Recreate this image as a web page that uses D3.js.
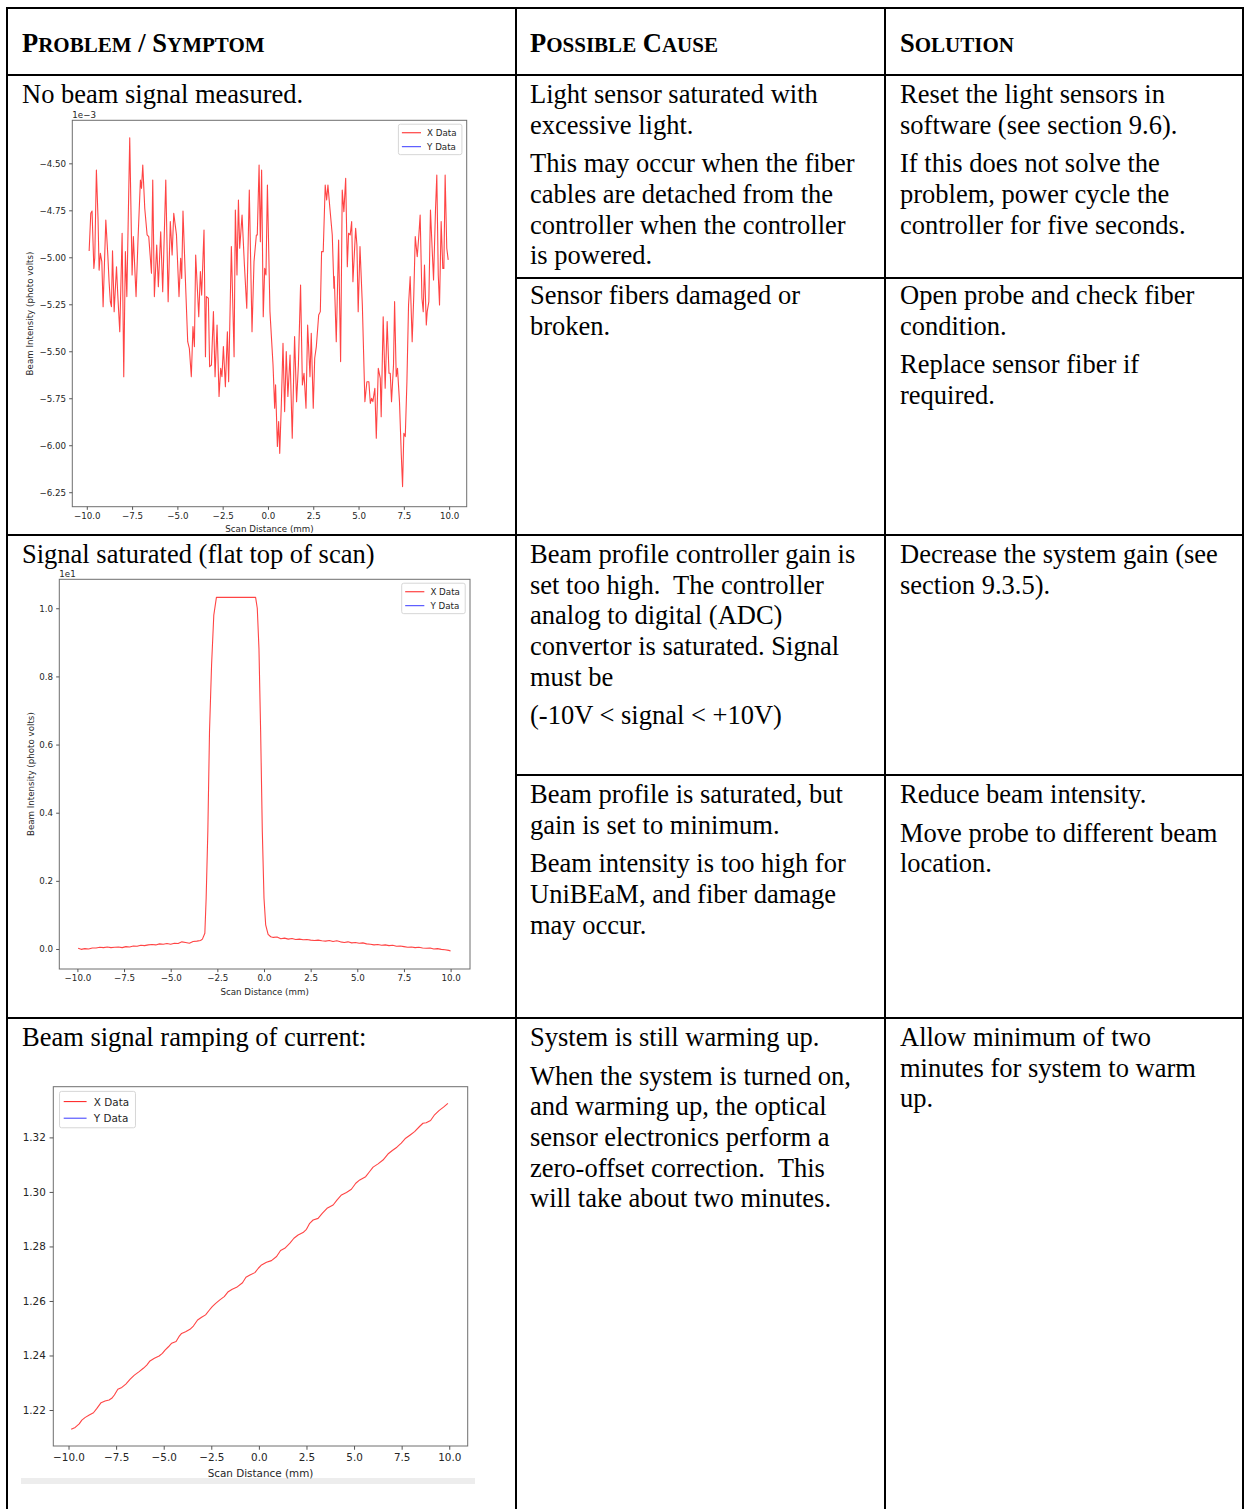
<!DOCTYPE html>
<html>
<head>
<meta charset="utf-8">
<script src="https://cdn.jsdelivr.net/npm/d3@7"></script>
<style>
  html, body { margin: 0; padding: 0; background: #fff; }
  svg { display: block; }
  .cell text { font-family: "Liberation Serif", "Times New Roman", serif; font-size: 26.5px; fill: #000; white-space: pre; }
  .head text { font-family: "Liberation Serif", "Times New Roman", serif; font-weight: bold; fill: #000; white-space: pre; }
  .plot text { font-family: "DejaVu Sans", sans-serif; fill: #262626; }
</style>
</head>
<body>
<svg id="page" width="1244" height="1509"></svg>
<script>
// ---------- table content ----------
const headers = ["Problem / Symptom", "Possible Cause", "Solution"];

const cellText = [
  ["No beam signal measured."],
  ["Light sensor saturated with", "excessive light.", "", "This may occur when the fiber", "cables are detached from the", "controller when the controller", "is powered."],
  ["Reset the light sensors in", "software (see section 9.6).", "", "If this does not solve the", "problem, power cycle the", "controller for five seconds."],
  ["Sensor fibers damaged or", "broken."],
  ["Open probe and check fiber", "condition.", "", "Replace sensor fiber if", "required."],
  ["Signal saturated (flat top of scan)"],
  ["Beam profile controller gain is", "set too high.  The controller", "analog to digital (ADC)", "convertor is saturated. Signal", "must be", "", "(-10V < signal < +10V)"],
  ["Decrease the system gain (see", "section 9.3.5)."],
  ["Beam profile is saturated, but", "gain is set to minimum.", "", "Beam intensity is too high for", "UniBEaM, and fiber damage", "may occur."],
  ["Reduce beam intensity.", "", "Move probe to different beam", "location."],
  ["Beam signal ramping of current:"],
  ["System is still warming up.", "", "When the system is turned on,", "and warming up, the optical", "sensor electronics perform a", "zero-offset correction.  This", "will take about two minutes."],
  ["Allow minimum of two", "minutes for system to warm", "up."]
];

// ---------- scan 1: noisy signal (values in 1e-3 photo volts) ----------
const noiseX = [-9.87,-9.78,-9.71,-9.61,-9.56,-9.47,-9.38,-9.32,-9.25,-9.17,-9.10,-8.95,-8.84,-8.77,-8.70,-8.64,-8.58,-8.49,-8.36,-8.29,-8.18,-8.05,-7.96,-7.87,-7.79,-7.63,-7.50,-7.43,-7.28,-7.17,-7.04,-6.98,-6.91,-6.80,-6.67,-6.58,-6.43,-6.36,-6.27,-6.14,-6.05,-5.92,-5.81,-5.64,-5.51,-5.39,-5.29,-5.20,-5.05,-4.91,-4.82,-4.76,-4.69,-4.54,-4.43,-4.34,-4.23,-4.14,-4.06,-3.99,-3.82,-3.73,-3.66,-3.53,-3.45,-3.40,-3.29,-3.22,
  -3.12,-3.01,-2.92,-2.81,-2.70,-2.61,-2.54,-2.46,-2.35,-2.24,-2.17,-2.02,-1.87,-1.80,-1.71,-1.63,-1.56,-1.43,-1.30,-1.17,-1.03,-0.88,-0.77,-0.64,-0.59,-0.49,-0.42,-0.35,-0.26,-0.18,-0.11,-0.03,0.11,0.28,0.37,0.42,0.52,0.59,0.65,0.74,0.83,0.92,1.01,1.10,1.22,1.34,1.47,1.58,1.68,1.80,1.90,1.99,2.10,2.19,2.32,2.39,2.50,2.58,2.67,2.80,2.89,2.96,3.05,3.16,3.24,3.31,3.42,3.55,3.64,
  3.66,3.77,3.90,4.01,4.10,4.19,4.29,4.38,4.45,4.54,4.62,4.69,4.84,4.91,4.98,5.08,5.21,5.35,5.46,5.57,5.65,5.72,5.79,5.90,5.98,6.09,6.20,6.25,6.36,6.47,6.58,6.68,6.75,6.82,6.93,6.99,7.08,7.15,7.26,7.36,7.43,7.50,7.58,7.67,7.76,7.85,7.96,8.05,8.13,8.24,8.33,8.40,8.50,8.57,8.64,8.74,8.79,8.88,8.97,9.07,9.14,9.25,9.32,9.40,9.47,9.56,9.65,9.71,9.78,9.87,9.95];
const noiseY = [-4.966,-4.766,-4.754,-5.059,-5.005,-4.536,-4.793,-5.068,-4.979,-5.023,-5.263,-4.802,-4.988,-5.130,-5.236,-5.263,-4.966,-5.289,-5.050,-5.201,-5.396,-4.872,-5.635,-4.970,-5.209,-4.364,-5.094,-4.890,-5.209,-4.899,-4.589,-4.633,-4.509,-4.740,-4.881,-4.890,-5.085,-4.589,-5.209,-4.935,-5.156,-4.864,-5.183,-4.589,-5.236,-4.810,-4.988,-4.766,-4.881,-5.209,-5.005,-5.112,-4.754,-5.165,-5.449,-5.484,-5.635,-5.369,-5.475,-4.988,-5.316,-5.076,-5.201,-4.855,-5.529,-5.209,-5.218,-5.582,
  -5.573,-5.289,-5.635,-5.360,-5.741,-5.591,-5.635,-5.475,-5.688,-5.396,-5.662,-4.943,-5.529,-4.748,-5.094,-4.695,-4.952,-4.775,-5.041,-5.271,-4.642,-5.396,-5.023,-4.881,-4.881,-4.509,-4.917,-4.536,-5.316,-5.059,-5.094,-4.615,-5.289,-5.573,-5.803,-5.679,-6.007,-5.874,-6.043,-5.777,-5.458,-5.821,-5.502,-5.741,-5.520,-5.963,-5.422,-5.768,-5.573,-5.147,-5.679,-5.617,-5.803,-5.360,-5.635,-5.404,-5.803,-5.537,-5.475,-5.307,-5.289,-4.970,-4.970,-4.615,-4.695,-4.615,-4.740,-4.881,-5.165,
  -5.103,-5.449,-4.908,-5.555,-4.642,-4.757,-4.580,-5.050,-4.872,-4.881,-4.810,-5.130,-4.846,-4.935,-5.289,-4.943,-5.254,-5.768,-5.662,-5.662,-5.777,-5.750,-5.768,-5.697,-5.963,-5.591,-5.644,-5.848,-5.316,-5.697,-5.342,-5.617,-5.617,-5.768,-5.573,-5.236,-5.635,-5.591,-5.768,-6.052,-6.220,-5.936,-5.954,-5.662,-5.254,-5.103,-5.449,-5.201,-4.890,-4.997,-4.881,-4.775,-5.218,-5.289,-5.041,-5.360,-5.289,-5.236,-4.748,-4.970,-5.121,-4.740,-4.562,-5.094,-5.254,-4.810,-5.059,-5.059,-4.562,-4.952,-5.014];

// ---------- scan 2: saturated profile (values in 1e1 photo volts) ----------
const satX = [-9.96,-9.8,-9.6,-9.4,-9.2,-9.0,-8.8,-8.6,-8.4,-8.2,-8.0,-7.8,-7.6,-7.4,-7.2,-7.0,-6.8,-6.6,-6.4,-6.2,-6.0,-5.8,-5.6,-5.4,-5.2,-5.0,-4.8,-4.6,-4.4,-4.2,-4.0,-3.8,-3.6,-3.4,-3.3,
  -3.17,-3.10,-3.01,-2.92,-2.81,-2.69,-2.55,-0.45,-0.36,-0.27,-0.18,-0.09,0.0,0.09,0.22,0.36,
  0.5,0.7,0.9,1.1,1.3,1.5,1.7,1.9,2.1,2.3,2.5,2.7,2.9,3.1,3.3,3.5,3.7,3.9,4.1,4.3,4.5,4.7,4.9,5.1,5.3,5.5,5.7,5.9,6.1,6.3,6.5,6.7,6.9,7.1,7.3,7.5,7.7,7.9,8.1,8.3,8.5,8.7,8.9,9.1,9.3,9.5,9.7,9.9,10.0];
const satY = [0.002,-0.001,0.001,0.000,0.003,0.003,0.005,0.004,0.006,0.004,0.005,0.006,0.004,0.007,0.006,0.009,0.008,0.011,0.010,0.012,0.013,0.012,0.015,0.014,0.016,0.014,0.017,0.016,0.021,0.019,0.017,0.022,0.023,0.025,0.029,
  0.046,0.149,0.345,0.638,0.833,0.980,1.032,1.032,1.000,0.882,0.638,0.345,0.149,0.071,0.043,0.036,
  0.034,0.035,0.030,0.032,0.029,0.031,0.028,0.029,0.027,0.028,0.026,0.025,0.026,0.024,0.023,0.025,0.022,0.024,0.021,0.019,0.021,0.018,0.019,0.017,0.018,0.015,0.014,0.012,0.013,0.011,0.012,0.010,0.011,0.008,0.009,0.007,0.005,0.006,0.004,0.005,0.003,0.002,0.003,0.000,0.001,-0.001,-0.002,-0.004,-0.006];

// ---------- scan 3: warm-up ramp (photo volts) ----------
const rampX = [-9.86,-9.65,-9.44,-9.30,-9.12,-8.91,-8.69,-8.51,-8.29,-8.08,-7.87,-7.73,-7.59,-7.41,-7.20,-6.99,-6.76,-6.54,-6.29,-6.07,-5.89,-5.72,-5.49,-5.24,-5.07,-4.93,-4.75,-4.58,-4.35,-4.20,-4.06,-3.85,-3.62,-3.44,-3.22,-3.01,-2.80,-2.62,-2.45,-2.27,-2.05,-1.82,-1.61,-1.40,-1.17,
  -0.86,-0.68,-0.47,-0.21,-0.03,0.14,0.40,0.66,0.93,1.14,1.36,1.63,1.84,2.06,2.32,2.50,2.67,2.85,3.11,3.34,3.58,3.90,4.11,4.34,4.60,4.86,5.09,5.30,5.61,5.82,6.00,6.26,6.52,6.78,7.01,7.25,7.48,7.71,7.95,8.18,8.44,8.62,8.79,9.02,9.23,9.46,9.70,9.93];
const rampY = [1.2129,1.2136,1.2149,1.2163,1.2173,1.2182,1.2190,1.2206,1.2227,1.2233,1.2237,1.2243,1.2255,1.2276,1.2283,1.2295,1.2313,1.2328,1.2341,1.2353,1.2365,1.2380,1.2390,1.2398,1.2408,1.2420,1.2432,1.2445,1.2451,1.2469,1.2481,1.2487,1.2496,1.2508,1.2530,1.2540,1.2549,1.2565,1.2579,1.2591,1.2604,1.2616,1.2634,1.2643,1.2650,
  1.2667,1.2687,1.2695,1.2704,1.2720,1.2732,1.2742,1.2748,1.2763,1.2785,1.2793,1.2812,1.2830,1.2842,1.2851,1.2863,1.2885,1.2897,1.2903,1.2922,1.2940,1.2952,1.2971,1.2989,1.2998,1.3010,1.3032,1.3044,1.3056,1.3075,1.3091,1.3103,1.3117,1.3139,1.3152,1.3164,1.3179,1.3197,1.3209,1.3221,1.3240,1.3252,1.3254,1.3262,1.3283,1.3298,1.3311,1.3325];

// ---------- tick values ----------
const scanTicks = [-10, -7.5, -5, -2.5, 0, 2.5, 5, 7.5, 10];
const noiseTicks = [-6.25, -6.0, -5.75, -5.5, -5.25, -5.0, -4.75, -4.5];
const satTicks = [0.0, 0.2, 0.4, 0.6, 0.8, 1.0];
const rampTicks = [1.22, 1.24, 1.26, 1.28, 1.30, 1.32];
const seriesNames = ["X Data", "Y Data"];

// ---------- page ----------
const svg = d3.select("#page");

// table rules
const rulesH = [[7, 1243, 8], [7, 1243, 75], [516, 1243, 278], [7, 1243, 535], [516, 1243, 775], [7, 1243, 1018]];
const rulesV = [[7, 7, 1509], [516, 7, 1509], [885, 7, 1509], [1243, 7, 1509]];
const grid = svg.append("g").attr("stroke", "#000").attr("stroke-width", 2);
rulesH.forEach(([x1, x2, y]) => grid.append("line").attr("x1", x1 - 1).attr("x2", x2 + 1).attr("y1", y).attr("y2", y));
rulesV.forEach(([x, y1, y2]) => grid.append("line").attr("x1", x).attr("x2", x).attr("y1", y1).attr("y2", y2));

// header row in small capitals
const headX = [22, 530, 900];
const head = svg.append("g").attr("class", "head");
headers.forEach((h, i) => {
  const t = head.append("text").attr("x", headX[i]).attr("y", 52);
  for (const ch of h) {
    const lower = ch !== ch.toUpperCase();
    t.append("tspan").attr("font-size", lower ? 21 : 26.5).text(ch.toUpperCase());
  }
});

// body cells
const cellPos = [[22, 94], [530, 94], [900, 94], [530, 295], [900, 295], [22, 554], [530, 554], [900, 554], [530, 794], [900, 794], [22, 1037], [530, 1037], [900, 1037]];
const lineH = 30.7, paraGap = 7.8;
const body = svg.append("g").attr("class", "cell");
cellText.forEach((lines, i) => {
  let y = cellPos[i][1] + 9;
  lines.forEach(s => {
    if (s === "") { y += paraGap; return; }
    body.append("text").attr("x", cellPos[i][0]).attr("y", y).text(s);
    y += lineH;
  });
});

// ---------- plots ----------
const fmtMinus = d3.format(".1f");
function drawPlot(cfg) {
  const g = svg.append("g").attr("class", "plot");
  const x = d3.scaleLinear().domain(cfg.xDomain).range(cfg.xRange);
  const y = d3.scaleLinear().domain(cfg.yDomain).range(cfg.yRange);
  const [x0, x1] = cfg.xRange, [y0, y1] = cfg.yRange;
  const f = cfg.font;

  const clipId = "clip" + cfg.id;
  g.append("clipPath").attr("id", clipId).append("rect")
    .attr("x", x0).attr("y", y1).attr("width", x1 - x0).attr("height", y0 - y1);

  g.append("path")
    .datum(d3.zip(cfg.xs, cfg.ys))
    .attr("clip-path", `url(#${clipId})`)
    .attr("fill", "none").attr("stroke", "#ff2a2a").attr("stroke-width", 1.1)
    .attr("stroke-opacity", 0.88)
    .attr("stroke-linejoin", "round")
    .attr("d", d3.line().x(d => x(d[0])).y(d => y(d[1])));

  // frame
  g.append("rect").attr("x", x0).attr("y", y1).attr("width", x1 - x0).attr("height", y0 - y1)
    .attr("fill", "none").attr("stroke", "#6e6e6e").attr("stroke-width", 1);

  const tk = f * 0.36, pad = f * 0.36;
  const gx = g.append("g").attr("transform", `translate(0,${y0})`)
    .call(d3.axisBottom(x).tickValues(scanTicks).tickFormat(fmtMinus).tickSize(tk).tickPadding(pad));
  const gy = g.append("g").attr("transform", `translate(${x0},0)`)
    .call(d3.axisLeft(y).tickValues(cfg.yTicks).tickFormat(d3.format(cfg.yFmt)).tickSize(tk).tickPadding(pad));
  [gx, gy].forEach(a => {
    a.select(".domain").remove();
    a.attr("font-family", null).attr("font-size", null);
    a.selectAll("line").attr("stroke", "#555");
    a.selectAll("text").attr("font-size", f).attr("fill", "#262626");
  });

  g.append("text").attr("x", (x0 + x1) / 2).attr("y", cfg.xLabelY)
    .attr("text-anchor", "middle").attr("font-size", f).text("Scan Distance (mm)");
  if (cfg.yLabel) {
    g.append("text").attr("transform", `translate(${cfg.yLabelX},${(y0 + y1) / 2}) rotate(-90)`)
      .attr("text-anchor", "middle").attr("dominant-baseline", "central")
      .attr("font-size", f).text("Beam Intensity (photo volts)");
  }
  if (cfg.offset) {
    g.append("text").attr("x", x0).attr("y", y1 - f * 0.3).attr("font-size", f).text(cfg.offset);
  }

  // legend
  const w = 7.3 * f, h = 3.5 * f;
  const lx = cfg.legend === "right" ? x1 - 0.55 * f - w : x0 + 0.6 * f;
  const ly = y1 + 0.45 * f;
  const lg = g.append("g").attr("transform", `translate(${lx},${ly})`);
  lg.append("rect").attr("width", w).attr("height", h).attr("rx", 2)
    .attr("fill", "#fff").attr("fill-opacity", 0.8).attr("stroke", "#d6d6d6").attr("stroke-width", 1);
  const colors = ["#ff3030", "#4b4bff"];
  seriesNames.forEach((n, i) => {
    const yy = f * (0.98 + 1.6 * i);
    lg.append("line").attr("x1", 0.4 * f).attr("x2", 2.6 * f).attr("y1", yy).attr("y2", yy)
      .attr("stroke", colors[i]).attr("stroke-width", 1.1);
    lg.append("text").attr("x", 3.3 * f).attr("y", yy).attr("dominant-baseline", "central")
      .attr("font-size", f).text(n);
  });
}

drawPlot({ id: 1, xs: noiseX, ys: noiseY, xDomain: [-10.8, 10.97], xRange: [72.3, 466.7],
  yDomain: [-6.327, -4.271], yRange: [506.7, 120.3], yTicks: noiseTicks, yFmt: ".2f",
  font: 8.7, xLabelY: 532, yLabel: true, yLabelX: 30, offset: "1e\u22123", legend: "right" });

drawPlot({ id: 2, xs: satX, ys: satY, xDomain: [-10.97, 11.04], xRange: [59.3, 470],
  yDomain: [-0.0587, 1.085], yRange: [969, 579.3], yTicks: satTicks, yFmt: ".1f",
  font: 8.7, xLabelY: 995, yLabel: true, yLabelX: 30.5, offset: "1e1", legend: "right" });

// strip under the third scan
svg.append("rect").attr("x", 21).attr("y", 1478).attr("width", 454).attr("height", 6).attr("fill", "#ededed");

drawPlot({ id: 3, xs: rampX, ys: rampY, xDomain: [-10.8, 10.97], xRange: [53.3, 467.7],
  yDomain: [1.2068, 1.3386], yRange: [1446, 1086.7], yTicks: rampTicks, yFmt: ".2f",
  font: 10.4, xLabelY: 1477, yLabel: false, offset: null, legend: "left" });
</script>
</body>
</html>
